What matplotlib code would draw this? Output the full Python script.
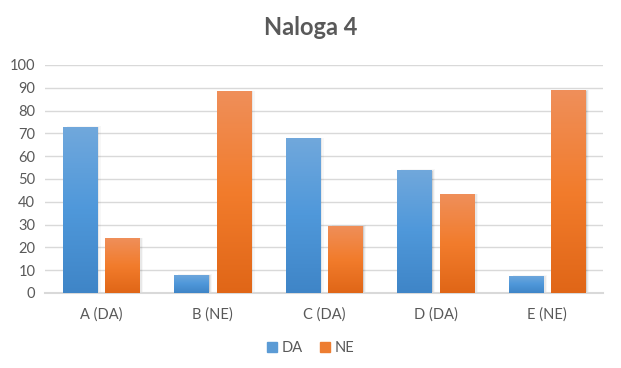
import matplotlib.pyplot as plt
import numpy as np
from matplotlib.colors import LinearSegmentedColormap
from matplotlib.patches import Rectangle

categories = ["A (DA)", "B (NE)", "C (DA)", "D (DA)", "E (NE)"]
da = [73, 8, 68, 54, 7.5]
ne = [24, 88.6, 29.5, 43.4, 89]

plt.rcParams['font.family'] = ['Lato', 'DejaVu Sans']
grey = '#595959'

fig = plt.figure(figsize=(6.21, 3.68), dpi=100)
ax = fig.add_axes([45 / 621, 75 / 368, 558 / 621, 228 / 368])

blue_cm = LinearSegmentedColormap.from_list('b', ['#3f85c7', '#4f98da', '#71a8dc'])
orange_cm = LinearSegmentedColormap.from_list('o', ['#e06617', '#f27c2c', '#ef8f5a'])
grad = np.linspace(0, 1, 256).reshape(-1, 1)

x = np.arange(len(categories))
w = 0.305
off = 0.19


def gbar(xc, h, cmap, label=None):
    # soft shadow, mostly to the right
    for i, a in enumerate([0.10, 0.06, 0.03]):
        ax.add_patch(Rectangle((xc - w / 2 + 0.012 * (i + 1), 0), w, h - 0.3 + 0.25 * i,
                               facecolor='black', alpha=a, lw=0, zorder=2))
    r = ax.bar(xc, h, w, color=cmap(0.5), zorder=3, label=label)[0]
    im = ax.imshow(grad, cmap=cmap, aspect='auto', origin='lower',
                   extent=[xc - w / 2, xc + w / 2, 0, h], zorder=3.5)
    im.set_clip_path(r)


for i in range(len(categories)):
    gbar(x[i] - off, da[i], blue_cm, 'DA' if i == 0 else None)
    gbar(x[i] + off, ne[i], orange_cm, 'NE' if i == 0 else None)

ax.set_xlim(-0.5, len(categories) - 0.5)
ax.set_ylim(0, 100)
ax.set_yticks(range(0, 101, 10))
ax.set_xticks(x)
ax.set_xticklabels(categories)
ax.yaxis.grid(True, color='#d9d9d9', lw=1, zorder=0)
ax.set_axisbelow(True)
for s in ['top', 'right', 'left']:
    ax.spines[s].set_visible(False)
ax.spines['bottom'].set_color('#d9d9d9')
ax.spines['bottom'].set_linewidth(1.5)
ax.tick_params(length=0, colors=grey, labelsize=10.5)
ax.tick_params(axis='x', pad=10)
ax.tick_params(axis='y', pad=7)

fig.text(0.5, 0.925, "Naloga 4", ha='center', va='center', fontsize=17,
         fontweight='bold', color=grey)

h1 = Rectangle((0, 0), 1, 1, color='#5b9bd5')
h2 = Rectangle((0, 0), 1, 1, color='#ed7d31')
fig.legend([h1, h2], ['DA', 'NE'], loc='center', bbox_to_anchor=(0.5, 0.055),
           ncol=2, frameon=False, fontsize=10.5, labelcolor=grey,
           handlelength=0.7, handleheight=0.7, handletextpad=0.3, columnspacing=1.2)

fig.savefig("out.png", dpi=100)
